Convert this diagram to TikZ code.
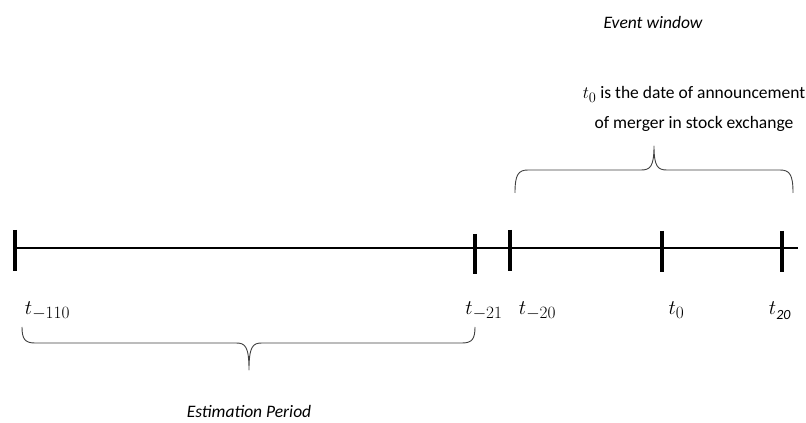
\documentclass[tikz,border=0pt]{standalone}
\usepackage{fontspec}
\setmainfont{Carlito}
\DeclareMathSizes{21}{21}{16}{12}
\DeclareMathSizes{17.5}{19}{14.5}{10}
\begin{document}
\begin{tikzpicture}[x=1pt,y=1pt,
  axis/.style={line width=2.6pt},
  tickmark/.style={line width=4.5pt},
  bracepath/.style={line width=0.9pt, black!75, line join=round},
  lab/.style={anchor=base, inner sep=0pt, font=\fontsize{21}{24}\selectfont},
  txt/.style={inner sep=0pt, font=\fontsize{17.5}{29.5}\selectfont, align=center}]
\useasboundingbox (0,0) rectangle (806,423);
% axis
\coordinate (L) at (15,175);
\coordinate (R) at (798,175);
\draw[axis] (L) -- (R);
% tick positions
\coordinate (tA) at (15,175);
\coordinate (tB) at (475,175);
\coordinate (tC) at (510,175);
\coordinate (tD) at (662,175);
\coordinate (tE) at (782,175);
\draw[tickmark] ([yshift=18pt]tA) -- ([yshift=-23pt]tA);
\draw[tickmark] ([yshift=14pt]tB) -- ([yshift=-26pt]tB);
\draw[tickmark] ([yshift=18pt]tC) -- ([yshift=-23pt]tC);
\draw[tickmark] ([yshift=17pt]tD) -- ([yshift=-24pt]tD);
\draw[tickmark] ([yshift=17pt]tE) -- ([yshift=-24pt]tE);
% labels
\node[lab] (lA) at (47.5,108) {$t_{-110}$};
\node[lab] (lB) at (484,108) {$t_{-21}$};
\node[lab] (lC) at (537.5,108) {$t_{-20}$};
\node[lab] (lD) at (676.5,108) {$t_{0}$};
\node[lab] (lE) at (780,108) {$t_{\raisebox{-1pt}{\fontsize{14}{14}\selectfont\itshape 20}}$};
% top brace
\coordinate (ebL) at (515,230);
\coordinate (ebT) at (654,277);
\coordinate (ebR) at (793,230);
\draw[bracepath] (ebL) .. controls (515,248) and (518,253) .. (528,253) -- (641,253)
  .. controls (650,253) and (654,256) .. (ebT)
  .. controls (654,256) and (658,253) .. (667,253) -- (780,253)
  .. controls (790,253) and (793,248) .. (ebR);
% bottom brace
\coordinate (bbL) at (22,96);
\coordinate (bbT) at (249,53);
\coordinate (bbR) at (475,96);
\draw[bracepath] (bbL) .. controls (22,84) and (25,80) .. (35,80) -- (236,80)
  .. controls (245,80) and (249,77) .. (bbT)
  .. controls (249,77) and (253,80) .. (262,80) -- (462,80)
  .. controls (472,80) and (475,84) .. (bbR);
% texts
\node[txt, font=\fontsize{17.5}{29.5}\selectfont\itshape] (ew) at (653,401) {Event window};
\node[txt] (desc) at (694,314) {$t_0$ is the date of announcement\\of merger in stock exchange};
\node[txt, font=\fontsize{17.5}{29.5}\selectfont\itshape] (ep) at (249,12) {Estimation Period};
\end{tikzpicture}
\end{document}
